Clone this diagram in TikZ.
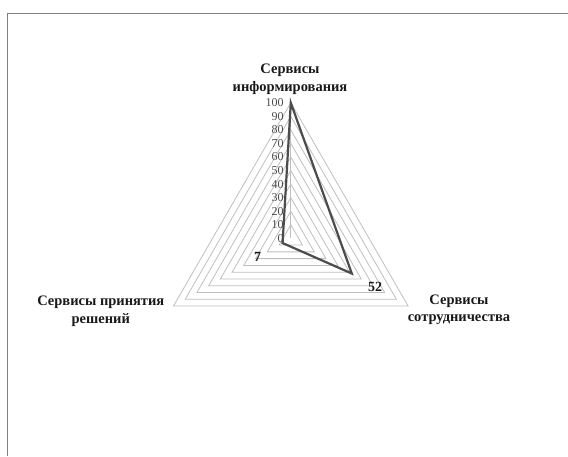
\documentclass[tikz,border=0pt]{standalone}
\usepackage{fontspec}
\setmainfont{Liberation Serif}
\usetikzlibrary{calc}
\begin{document}
\begin{tikzpicture}[x=1pt,y=1pt,
  gridline/.style={draw=black!25, line width=0.8pt},
  dataline/.style={draw=black!70, line width=2.2pt, line join=miter},
  ticklbl/.style={anchor=east, inner sep=0pt, font=\fontsize{12}{12}\selectfont, text=black!70},
  catlbl/.style={align=center, inner sep=0pt, font=\bfseries\fontsize{14.5}{17.5}\selectfont, text=black!90},
  vallbl/.style={inner sep=0pt, font=\bfseries\fontsize{14}{14}\selectfont, text=black!90}]
\useasboundingbox (0,0) rectangle (568,-456);
\fill[white] (0,0) rectangle (568,-456);
% frame
\draw[black!50, line width=1pt] (7,-456) -- (7,-13) -- (568,-13);
% radar
\coordinate (c) at (290.8,-238.3);
\def\R{135.5}
\foreach \k in {1,...,10}{
  \draw[gridline] ($(c)+(90:\k*\R/10)$) -- ($(c)+(210:\k*\R/10)$) -- ($(c)+(330:\k*\R/10)$) -- cycle;
}
\draw[gridline] (c) -- ($(c)+(90:\R)$);
\foreach \k in {0,...,10}{
  \node[ticklbl] (t\k) at ($(c)+(-7,\k*\R/10)$) {\the\numexpr\k*10\relax};
}
\coordinate (p1) at ($(c)+(90:\R)$);
\coordinate (p2) at ($(c)+(330:0.52*\R)$);
\coordinate (p3) at ($(c)+(210:0.07*\R)$);
\draw[dataline] (p1) -- (p2) -- (p3) -- cycle;
\node[vallbl] (v7) at (257.5,-256.7) {7};
\node[vallbl] (v52) at (375,-287.3) {52};
\node[catlbl] (a1) at (290,-79) {Сервисы\\информирования};
\node[catlbl] (a2) at (100.8,-311) {Сервисы принятия\\решений};
\node[catlbl] (a3) at (459,-310) {Сервисы\\сотрудничества};
\end{tikzpicture}
\end{document}
